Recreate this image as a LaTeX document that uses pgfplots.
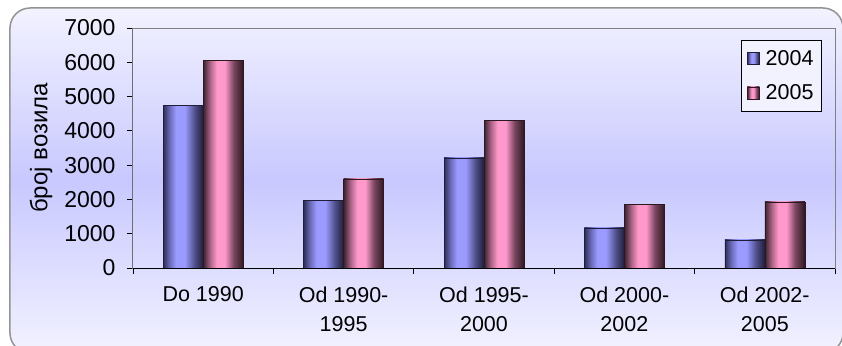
\documentclass[border=0pt]{standalone}
\usepackage{pgfplots}
\pgfplotsset{compat=1.18}
\usepackage{fontspec}
\setmainfont{Liberation Sans}
\definecolor{b0}{HTML}{2E2E55}
\definecolor{b1}{HTML}{6A6AB8}
\definecolor{b2}{HTML}{9A9AFF}
\definecolor{b3}{HTML}{50508C}
\definecolor{b4}{HTML}{1E1E3A}
\definecolor{p0}{HTML}{3A2230}
\definecolor{p1}{HTML}{B06688}
\definecolor{p2}{HTML}{FF99CC}
\definecolor{p3}{HTML}{7A4660}
\definecolor{p4}{HTML}{2E1820}
\definecolor{bgL}{HTML}{F2F2FF}
\definecolor{bgM}{HTML}{C8C8FF}
\pgfdeclarehorizontalshading{bluebar}{100bp}{color(0bp)=(b0); color(25bp)=(b0); color(33bp)=(b1); color(41bp)=(b2); color(52bp)=(b2); color(64bp)=(b3); color(75bp)=(b4); color(100bp)=(b4)}
\pgfdeclarehorizontalshading{pinkbar}{100bp}{color(0bp)=(p0); color(25bp)=(p0); color(34bp)=(p1); color(42bp)=(p2); color(52bp)=(p2); color(63bp)=(p3); color(75bp)=(p4); color(100bp)=(p4)}
\pgfplotsset{
  bluestyle/.style={ybar, bar width=40pt, bar shift=-20pt, shading=bluebar, draw=b4, line width=0.4pt,
    legend image code/.code={\draw[shading=bluebar, draw=b4] (0pt,-6pt) rectangle (12pt,6pt);}},
  pinkstyle/.style={ybar, bar width=40pt, bar shift=20pt, shading=pinkbar, draw=p4, line width=0.4pt,
    legend image code/.code={\draw[shading=pinkbar, draw=p4] (0pt,-6pt) rectangle (12pt,6pt);}},
}
\begin{document}
\begin{tikzpicture}
\useasboundingbox (-133pt,-77pt) rectangle (709pt,268pt);
\shade[rounded corners=20pt, shading angle=45, top color=bgL, bottom color=bgL, middle color=bgM] (-123pt,-85pt) rectangle (710pt,260pt);
\draw[gray!85, line width=1.5pt, rounded corners=20pt] (-123pt,-85pt) rectangle (710pt,260pt);
\begin{axis}[
  at={(0pt,0pt)}, anchor=south west,
  scale only axis, width=702pt, height=240pt,
  xmin=0.5, xmax=5.5, ymin=0, ymax=7000,
  font=\fontsize{21.5}{29}\selectfont,
  /pgf/number format/assume math mode=true,
  /pgf/number format/1000 sep={},
  axis line style={gray, line width=1pt},
  ytick={0,1000,...,7000},
  yticklabel style={xshift=-8pt, font=\fontsize{23}{26}\selectfont},
  xtick={1,2,3,4,5},
  xticklabels={Do 1990,{Od 1990-\\1995},{Od 1995-\\2000},{Od 2000-\\2002},{Od 2002-\\2005}},
  xticklabel style={align=center, yshift=-9pt},
  minor xtick={0.5,1.5,2.5,3.5,4.5,5.5},
  major x tick style={draw=none},
  minor x tick style={black, line width=0.8pt},
  major y tick style={black, line width=0.8pt},
  major tick length=6pt, minor tick length=6pt,
  tick align=outside, xtick pos=bottom, ytick pos=left,
  ylabel={број возила},
  ylabel style={at={(axis description cs:-0.131,0.5)}, anchor=center, font=\fontsize{24}{26}\selectfont},
  legend style={at={(axis description cs:0.981,0.95)}, anchor=north east,
    draw=black, fill=bgL, font=\fontsize{21.5}{23}\selectfont,
    row sep=14pt, inner xsep=6pt, inner ysep=8pt,
    /tikz/every odd column/.append style={column sep=4pt}},
  legend cell align=left,
]
\addplot[bluestyle] coordinates {(1,4750)};
\addlegendentry{2004}
\addplot[pinkstyle] coordinates {(1,6050)};
\addlegendentry{2005}
\addplot[bluestyle, forget plot] coordinates {(2,1980)};
\addplot[bluestyle, forget plot] coordinates {(3,3210)};
\addplot[bluestyle, forget plot] coordinates {(4,1170)};
\addplot[bluestyle, forget plot] coordinates {(5,820)};
\addplot[pinkstyle, forget plot] coordinates {(2,2600)};
\addplot[pinkstyle, forget plot] coordinates {(3,4300)};
\addplot[pinkstyle, forget plot] coordinates {(4,1850)};
\addplot[pinkstyle, forget plot] coordinates {(5,1930)};
\draw[black, line width=1pt] (rel axis cs:0,1) -- (rel axis cs:0,0) -- (rel axis cs:1,0);
\end{axis}
\end{tikzpicture}
\end{document}
